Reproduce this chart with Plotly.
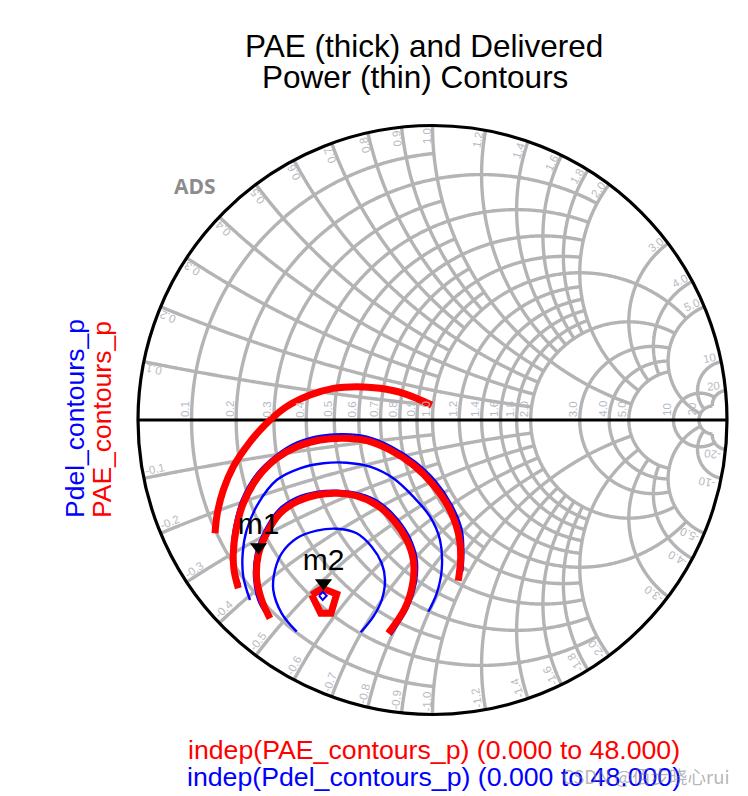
import numpy as np
import plotly.graph_objects as go

W, H = 748, 796
CX, CY, R = 432.5, 420.0, 294.5

# Smith grid values and how far each line runs
RES_TICKS = [0.1, 0.2, 0.3, 0.4, 0.5, 0.6, 0.7, 0.8, 0.9, 1.0, 1.2, 1.4, 1.6, 1.8, 2.0, 3.0, 4.0, 5.0, 10, 20]
RES_LIMIT = [1, 2, 1, 2, 1, 2, 1, 2, 1, 5, 2, 2, 2, 2, 5, 5, 5, 5, 20, 20]
REA_TICKS = [0.1, 0.2, 0.3, 0.4, 0.5, 0.6, 0.7, 0.8, 0.9, 1.0, 1.2, 1.4, 1.6, 1.8, 2.0, 3.0, 4.0, 5.0, 10, 20]
REA_LIMIT = [1, 2, 1, 2, 1, 2, 1, 2, 1, 5, 2, 2, 2, 2, 5, 5, 5, 20, 20, 20]
TICK_TEXT = ["0.1", "0.2", "0.3", "0.4", "0.5", "0.6", "0.7", "0.8", "0.9", "1.0", "1.2", "1.4", "1.6", "1.8", "2.0", "3.0", "4.0", "5.0", "10", "20"]

# Contours, as reflection coefficients
pae_1_re = [-.7385, -.7307, -.7103, -.6764, -.6240, -.5631, -.4952, -.4160, -.3367, -.2575, -.1783, -.0990, -.0028]
pae_1_im = [-.3848, -.3169, -.2377, -.1585, -.0800, -.0113, .0453, .0849, .1075, .1132, .1075, .0905, .0510]

pae_2_re = [-.6594, -.6740, -.6764, -.6672, -.6424, -.5915, -.5290, -.4611, -.3820, -.3029, -.2234, -.1443, -.0652, .0027, .0537, .0876, .0958, .0876]
pae_2_im = [-.5715, -.5093, -.4526, -.3735, -.2829, -.1925, -.1300, -.0907, -.0679, -.0621, -.0703, -.1019, -.1528, -.2207, -.2944, -.3847, -.4642, -.5457]

pae_3_re = [-.5518, -.5800, -.5970, -.5915, -.5630, -.5178, -.4611, -.3932, -.3253, -.2574, -.1895, -.1331, -.0876, -.0652, -.0672, -.0934, -.1501]
pae_3_im = [-.6734, -.6112, -.5375, -.4584, -.3847, -.3168, -.2774, -.2547, -.2489, -.2581, -.2886, -.3396, -.4075, -.4754, -.5545, -.6394, -.7243]

pae_4_re = [-.4102, -.3742, -.3253, -.3447, -.3796, -.4102]
pae_4_im = [-.5942, -.5715, -.5908, -.6564, -.6564, -.5942]

pdel_1_re = [-.6537, -.6740, -.6819, -.6730, -.6479, -.5970, -.5290, -.4611, -.3820, -.3029, -.2234, -.1385, -.0594, .0119, .0652, .0992, .1046, .1012]
pdel_1_im = [-.5603, -.4981, -.4472, -.3623, -.2716, -.1834, -.1188, -.0771, -.0543, -.0486, -.0567, -.0907, -.1416, -.2095, -.2886, -.3735, -.4584, -.5151]

pdel_2_re = [-.6197, -.6424, -.6445, -.6309, -.5915, -.5290, -.4499, -.3708, -.2913, -.2122, -.1331, -.0652, -.0085, .0255, .0312, .0143, -.0143]
pdel_2_im = [-.6112, -.5321, -.4526, -.3735, -.2829, -.2037, -.1640, -.1470, -.1450, -.1586, -.1980, -.2604, -.3283, -.4075, -.5093, -.5885, -.6509]

pdel_3_re = [-.5630, -.5915, -.6061, -.5993, -.5688, -.5236, -.4611, -.3932, -.3253, -.2462, -.1783, -.1216, -.0764, -.0536, -.0570, -.0822, -.1419]
pdel_3_im = [-.6621, -.6112, -.5321, -.4526, -.3735, -.3056, -.2638, -.2445, -.2400, -.2513, -.2808, -.3338, -.4017, -.4754, -.5545, -.6340, -.7300]

pdel_4_re = [-.4611, -.5121, -.5406, -.5348, -.5121, -.4611, -.3932, -.3253, -.2574, -.2065, -.1725, -.1613, -.1725, -.2010, -.2438]
pdel_4_im = [-.7188, -.6565, -.5772, -.5093, -.4526, -.4017, -.3758, -.3691, -.3847, -.4302, -.4866, -.5433, -.6112, -.6678, -.7209]

pdel_5_re = [-.3854, -.3728, -.3593, -.3728, -.3854]
pdel_5_im = [-.5966, -.5840, -.5966, -.6112, -.5966]

marker_names = ["m1", "m2"]
marker_re = [-.5908, -.3701]
marker_im = [-.4312, -.5535]

GRAY = "#b4b4b4"
LABEL_GRAY = "#b6bac2"
FONT = "Liberation Sans"


def to_z(re, im):
    g = np.array(re) + 1j * np.array(im)
    return (1 + g) / (1 - g)


def contour(re, im, color, width, name):
    z = to_z(re, im)
    return go.Scattersmith(real=z.real.tolist(), imag=z.imag.tolist(), mode="lines", name=name,
                           line=dict(color=color, width=width, shape="spline", smoothing=1.0),
                           hoverinfo="skip", showlegend=False)


def paper(x, y):
    return x / W, 1 - y / H


def label(text, x, y, angle=0, size=11.5, color=LABEL_GRAY, **kw):
    px, py = paper(x, y)
    return dict(text=text, x=px, y=py, xref="paper", yref="paper", showarrow=False, textangle=angle,
                xanchor="center", yanchor="middle", font=dict(family=FONT, size=size, color=color), **kw)


# grid lines
grid_r, grid_x = [], []
for r, lim in zip(RES_TICKS, RES_LIMIT):
    xs = np.linspace(-lim, lim, 401)
    grid_r += [r] * len(xs) + [None]
    grid_x += xs.tolist() + [None]
for x, lim in zip(REA_TICKS, REA_LIMIT):
    rs = np.linspace(0, lim, 301)
    for sgn in (1, -1):
        grid_r += rs.tolist() + [None]
        grid_x += [sgn * x] * len(rs) + [None]

fig = go.Figure()
fig.add_trace(go.Scattersmith(real=grid_r, imag=grid_x, mode="lines", line=dict(color=GRAY, width=3.4),
                              hoverinfo="skip", showlegend=False, connectgaps=False))
fig.add_trace(go.Scattersmith(real=[0, 1e5], imag=[0, 0], mode="lines", line=dict(color="black", width=3.2),
                              hoverinfo="skip", showlegend=False))

for (re, im) in [(pdel_1_re, pdel_1_im), (pdel_2_re, pdel_2_im), (pdel_3_re, pdel_3_im), (pdel_4_re, pdel_4_im)]:
    fig.add_trace(contour(re, im, "#0000ff", 2.4, "Pdel_contours_p"))
for (re, im) in [(pae_1_re, pae_1_im), (pae_2_re, pae_2_im), (pae_3_re, pae_3_im)]:
    fig.add_trace(contour(re, im, "#ff0000", 7, "PAE_contours_p"))
z = to_z(pae_4_re, pae_4_im)
fig.add_trace(go.Scattersmith(real=z.real.tolist(), imag=z.imag.tolist(), mode="lines",
                              line=dict(color="#ff0000", width=7), hoverinfo="skip", showlegend=False))
z = to_z(pdel_5_re, pdel_5_im)
fig.add_trace(go.Scattersmith(real=z.real.tolist(), imag=z.imag.tolist(), mode="lines",
                              line=dict(color="#0000ff", width=2), hoverinfo="skip", showlegend=False))

z = to_z(marker_re, marker_im)
fig.add_trace(go.Scattersmith(real=z.real.tolist(), imag=z.imag.tolist(), mode="markers",
                              marker=dict(symbol="triangle-down", size=15, color="black"),
                              hoverinfo="skip", showlegend=False))
fig.add_trace(go.Scattersmith(real=z.real.tolist(), imag=z.imag.tolist(), mode="markers+text",
                              text=marker_names, textposition="top center",
                              textfont=dict(family=FONT, size=30, color="black"),
                              marker=dict(size=7, color="rgba(0,0,0,0)"),
                              hoverinfo="skip", showlegend=False))

annotations = []
# labels along the real axis
for r, t in zip(RES_TICKS, TICK_TEXT):
    gx = (r - 1) / (r + 1)
    annotations.append(label(t, CX + R * gx - 6.5, CY - 11, angle=-90))
# labels along the rim
for x, t in zip(REA_TICKS, TICK_TEXT):
    phi = np.pi - 2 * np.arctan(x)
    u, v = -np.cos(phi), np.sin(phi)          # inward, upper half, screen axes
    bx, by = CX + R * np.cos(phi), CY - R * np.sin(phi)
    annotations.append(label(t, bx + 11 * u - 6 * v, by + 11 * v + 6 * u, angle=-np.degrees(phi)))
    # lower half
    bx2, by2 = bx, 2 * CY - by
    u2, v2 = u, -v
    annotations.append(label("-" + t, bx2 + 13 * u2 + 6.5 * v2, by2 + 13 * v2 - 6.5 * u2,
                             angle=-(np.degrees(-phi) + 180)))

annotations += [
    label("PAE (thick) and Delivered", 424, 46, size=31.5, color="black"),
    label("Power (thin) Contours", 415, 77, size=31.5, color="black"),
    label("Pdel_contours_p", 75, 419, angle=-90, size=26.5, color="#0000ff"),
    label("PAE_contours_p", 102, 419, angle=-90, size=26.5, color="#ff0000"),
    label("indep(PAE_contours_p) (0.000 to 48.000)", 434, 750, size=26.7, color="#ff0000"),
    label("indep(Pdel_contours_p) (0.000 to 48.000)", 434, 777, size=26.7, color="#0000ff"),
    label("<b>ADS</b>", 195, 186, size=21, color="#8c8c8c"),
    label("CSDN @佰步晓心rui", 646, 776, size=18.5, color="rgba(120,120,120,0.55)"),
]
annotations[-1]["font"]["family"] = "Noto Sans CJK SC"
annotations[-2]["font"]["family"] = "Open Sans"

fig.update_layout(
    width=W, height=H, autosize=False,
    margin=dict(l=0, r=0, t=0, b=0),
    paper_bgcolor="white", plot_bgcolor="white",
    showlegend=False,
    smith=dict(
        bgcolor="white",
        domain=dict(x=[(CX - R) / W, (CX + R) / W], y=[1 - (CY + R) / H, 1 - (CY - R) / H]),
        realaxis=dict(showgrid=False, showline=False, showticklabels=False, ticks="", tickvals=[1e6]),
        imaginaryaxis=dict(showgrid=False, showline=True, linecolor="black", linewidth=3.2,
                           showticklabels=False, ticks="", tickvals=[1e6]),
    ),
    annotations=annotations,
)

fig.write_html("out.html", config=dict(displayModeBar=False), post_script="document.body.style.margin='0';")
